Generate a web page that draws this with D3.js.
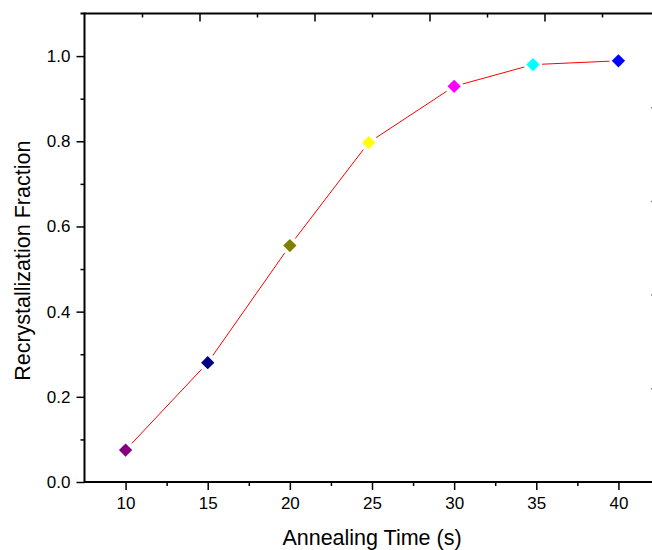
<!DOCTYPE html>
<html>
<head>
<meta charset="utf-8">
<script src="https://cdn.jsdelivr.net/npm/d3@7"></script>
<style>
  body { margin: 0; background: #fff; }
  text { font-family: "Liberation Sans", Arial, sans-serif; fill: #000; }
</style>
</head>
<body>
<div id="chart"></div>
<script>
// data
var times = [10, 15, 20, 24.8, 30, 34.8, 40];
var fraction = [0.075, 0.280, 0.555, 0.797, 0.929, 0.980, 0.989];
var colors = ["#800080", "#000080", "#808000", "#ffff00", "#ff00ff", "#00ffff", "#0000ff"];
var xTicks = [10, 15, 20, 25, 30, 35, 40];
var yTicks = [0, 0.2, 0.4, 0.6, 0.8, 1.0];

var W = 652, H = 550;
var pLeft = 84.5, pRight = 659.5, pTop = 13.5, pBottom = 482;

var svg = d3.select("#chart").append("svg")
  .attr("width", W).attr("height", H);

var x = d3.scaleLinear().domain([7.5, 42.5]).range([pLeft, pRight]);
var y = d3.scaleLinear().domain([0, 1.1]).range([pBottom, pTop]);
// second layer axes (top and right) of the original plot
var xTop = d3.scaleLinear().domain([0, 5]).range([pLeft, pRight]);
var yRight = d3.scaleLinear().domain([0, 5]).range([pTop, pBottom]);

// bottom axis
svg.append("g").attr("transform", "translate(0," + pBottom + ")")
  .call(d3.axisBottom(x).tickValues(xTicks).tickSize(8).tickPadding(7).tickFormat(d3.format("d")));
svg.append("g").attr("transform", "translate(0," + pBottom + ")")
  .call(d3.axisBottom(x).tickValues(d3.range(12.5, 42.5, 5)).tickSize(4).tickFormat(""));

// left axis
svg.append("g").attr("transform", "translate(" + pLeft + ",0)")
  .call(d3.axisLeft(y).tickValues(yTicks).tickSize(8).tickPadding(6).tickFormat(d3.format(".1f")));
svg.append("g").attr("transform", "translate(" + pLeft + ",0)")
  .call(d3.axisLeft(y).tickValues([0.1, 0.3, 0.5, 0.7, 0.9]).tickSize(4).tickFormat(""));

// top axis, ticks inward
svg.append("g").attr("transform", "translate(0," + pTop + ")")
  .call(d3.axisBottom(xTop).tickValues([1, 2, 3, 4]).tickSize(8).tickFormat(""));
svg.append("g").attr("transform", "translate(0," + pTop + ")")
  .call(d3.axisBottom(xTop).tickValues([0.5, 1.5, 2.5, 3.5, 4.5]).tickSize(4).tickFormat(""));

// right axis, ticks inward (mostly off screen)
svg.append("g").attr("transform", "translate(" + pRight + ",0)")
  .call(d3.axisLeft(yRight).tickValues([1, 2, 3, 4]).tickSize(8).tickFormat(""));

svg.selectAll(".domain").remove();
svg.selectAll(".tick line").attr("stroke", "#000").attr("stroke-width", 1.5);
svg.selectAll(".tick text").attr("font-size", "17px").style("font-size", "17px").attr("fill", "#000");

// frame
svg.append("line").attr("x1", pLeft).attr("x2", pRight + 10).attr("y1", pBottom).attr("y2", pBottom)
  .attr("stroke", "#000").attr("stroke-width", 2);
svg.append("line").attr("x1", pLeft - 4).attr("x2", pRight + 10).attr("y1", pTop).attr("y2", pTop)
  .attr("stroke", "#000").attr("stroke-width", 2);
svg.append("line").attr("x1", pLeft).attr("x2", pLeft).attr("y1", pTop - 1).attr("y2", pBottom + 1)
  .attr("stroke", "#000").attr("stroke-width", 2);

// connecting line with gaps around markers
var pts = times.map(function(t, i) { return [x(t), y(fraction[i])]; });
var gap = 9;
for (var i = 0; i < pts.length - 1; i++) {
  var a = pts[i], b = pts[i + 1];
  var dx = b[0] - a[0], dy = b[1] - a[1];
  var len = Math.sqrt(dx * dx + dy * dy);
  svg.append("line")
    .attr("x1", a[0] + dx / len * gap).attr("y1", a[1] + dy / len * gap)
    .attr("x2", b[0] - dx / len * gap).attr("y2", b[1] - dy / len * gap)
    .attr("stroke", "#ff0000").attr("stroke-width", 1);
}

// diamond markers
svg.selectAll(".pt").data(times).enter().append("path")
  .attr("class", "pt")
  .attr("d", d3.symbol().type(d3.symbolDiamond2).size(112))
  .attr("transform", function(d, i) { return "translate(" + x(d) + "," + y(fraction[i]) + ")"; })
  .attr("fill", function(d, i) { return colors[i]; });

// axis titles
svg.append("text")
  .attr("x", 372).attr("y", 545)
  .attr("text-anchor", "middle").style("font-size", "21.5px")
  .text("Annealing Time (s)");

svg.append("text")
  .attr("transform", "translate(30," + ((pTop + pBottom) / 2 + 13) + ") rotate(-90)")
  .attr("text-anchor", "middle").style("font-size", "21.5px")
  .text("Recrystallization Fraction");
</script>
</body>
</html>
